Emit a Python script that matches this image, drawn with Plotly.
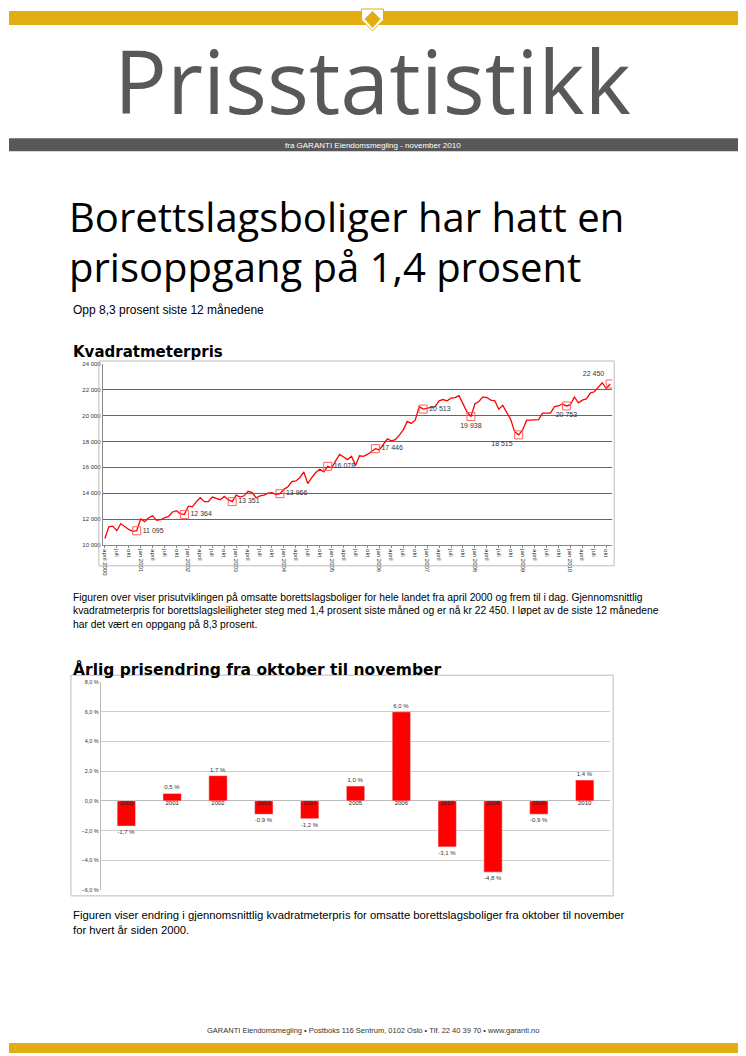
import plotly.graph_objects as go

W, H = 738, 1048
OFF = 8
def px(x): return (x - OFF) / W
def py(y): return 1 - (y - OFF) / H

# ---- data ----
price = [
 10500,11400,11450,11100,11650,11400,11200,11050,11095,
 12000,11800,12100,12250,11900,11950,12100,12200,12550,12650,12400,12364,
 13000,12950,13350,13650,13350,13350,13700,13600,13500,13750,13500,13351,
 13850,13700,13800,14150,14050,13650,13800,13850,14000,14050,13900,13966,
 14300,14500,14900,14950,15200,15650,14750,15200,15600,15850,15650,16078,
 15950,16500,17000,16800,16600,16850,16150,16900,16850,17000,17250,17446,
 17350,17800,18200,18050,18150,18500,18900,19550,19400,19650,20700,20513,
 20600,20650,20700,21150,21250,21150,21350,21400,21550,20900,20300,19938,
 20900,21100,21450,21400,21200,21150,20500,20800,20300,19700,18750,18515,
 18900,19650,19650,19650,19700,20200,20200,20200,20700,20750,20900,20753,
 20850,21450,21000,21200,21300,21750,21850,22200,22550,22100,22450]
month_names = ["jan","feb","mars","april","mai","juni","juli","aug","sep","okt","nov","des"]
marked_idx = [8,20,32,44,56,68,80,92,104,116,127]
marked_pos = ["middle right"]*6 + ["middle right","bottom center","bottom left","bottom center","top left"]

years = ["2000","2001","2002","2003","2004","2005","2006","2007","2008","2009","2010"]
change = [-1.7,0.5,1.7,-0.9,-1.2,1.0,6.0,-3.1,-4.8,-0.9,1.4]

xs = list(range(len(price)))
ticks, ticklabels = [], []
for i in xs:
    m = (3 + i) % 12
    y = 2000 + (3 + i) // 12
    if m in (0, 3, 6, 9):
        ticks.append(i)
        if m == 0 or i == 0:
            ticklabels.append(f"{month_names[m]} {y}")
        else:
            ticklabels.append(month_names[m])

fig = go.Figure()
fig.add_trace(go.Scatter(x=xs, y=price, mode="lines", line=dict(color="#FF0000", width=1.3),
                         xaxis="x", yaxis="y", hoverinfo="skip"))
fig.add_trace(go.Scatter(x=marked_idx, y=[price[i] for i in marked_idx], mode="markers+text",
                         marker=dict(symbol="square-open", size=8, color="#FF6060", line=dict(width=1)),
                         text=[f"{price[i]:,}".replace(",", " ") for i in marked_idx],
                         textposition=marked_pos, textfont=dict(size=7, color="#333", family="Liberation Sans"),
                         xaxis="x", yaxis="y", hoverinfo="skip"))

fig.add_trace(go.Bar(x=years, y=change, marker=dict(color="#FF0000"), width=0.4,
                     text=[f"{v:.1f} %".replace(".", ",") for v in change], textposition="outside",
                     textfont=dict(size=6, color="#333", family="Liberation Sans"),
                     cliponaxis=False, xaxis="x2", yaxis="y2"))
fig.add_trace(go.Scatter(x=years, y=[0]*len(years), mode="text", text=years, textposition="bottom center",
                         textfont=dict(size=6, color="#222", family="Liberation Sans"),
                         xaxis="x2", yaxis="y2", hoverinfo="skip"))

shapes = [
    dict(type="rect", xref="paper", yref="paper", x0=0, x1=1, y0=py(22), y1=1, fillcolor="#E3AC12", line_width=0, layer="below"),
    dict(type="path", xref="paper", yref="paper",
         path=f"M {px(361)} {py(6)} L {px(383)} {py(6)} L {px(383)} {py(17)} L {px(372)} {py(28)} L {px(361)} {py(17)} Z",
         fillcolor="#FFFFFF", line=dict(color="#E3AC12", width=1)),
    dict(type="path", xref="paper", yref="paper",
         path=f"M {px(372)} {py(8)} L {px(380)} {py(16)} L {px(372)} {py(25)} L {px(364)} {py(16)} Z",
         fillcolor="#E3AC12", line_width=0),
    dict(type="rect", xref="paper", yref="paper", x0=0, x1=1, y0=py(149), y1=py(136), fillcolor="#58585A", line_width=0, layer="below"),
    dict(type="rect", xref="paper", yref="paper", x0=0, x1=1, y0=0, y1=py(1046), fillcolor="#E3AC12", line_width=0),
    dict(type="rect", xref="paper", yref="paper", x0=px(98), x1=px(614), y0=py(566), y1=py(360), line=dict(color="#BBBBBB", width=1)),
    dict(type="rect", xref="paper", yref="paper", x0=px(70), x1=px(613), y0=py(898), y1=py(676), line=dict(color="#BBBBBB", width=1)),
]

def ann(x, y, text, size, color="#000", family="Liberation Sans", xanchor="left", yanchor="middle"):
    return dict(x=px(x), y=py(y), xref="paper", yref="paper", text=text, showarrow=False,
                font=dict(size=size, color=color, family=family), xanchor=xanchor, yanchor=yanchor, align="left")

annotations = [
    ann(372, 77, "Prisstatistikk", 88, color="#58585A", family="Open Sans", xanchor="center"),
    ann(372, 143, "fra GARANTI Eiendomsmegling - november 2010", 8, color="#FFFFFF", xanchor="center"),
    ann(66, 215, "Borettslagsboliger har hatt en", 40, family="Open Sans"),
    ann(66, 265, "prisoppgang på 1,4 prosent", 40, family="Open Sans"),
    ann(70, 309, "Opp 8,3 prosent siste 12 månedene", 12),
    ann(70, 351, "<b>Kvadratmeterpris</b>", 15, family="DejaVu Sans"),
    ann(70, 611, "Figuren over viser prisutviklingen på omsatte borettslagsboliger for hele landet fra april 2000 og frem til i dag. Gjennomsnittlig<br>kvadratmeterpris for borettslagsleiligheter steg med 1,4 prosent siste måned og er nå kr 22 450. I løpet av de siste 12 månedene<br>har det vært en oppgang på 8,3 prosent.", 10.3),
    ann(70, 670, "<b>Årlig prisendring fra oktober til november</b>", 15.5, family="DejaVu Sans"),
    ann(70, 925, "Figuren viser endring i gjennomsnittlig kvadratmeterpris for omsatte borettslagsboliger fra oktober til november<br>for hvert år siden 2000.", 11.3),
    ann(372, 1033, "GARANTI Eiendomsmegling • Postboks 116 Sentrum, 0102 Oslo • Tlf. 22 40 39 70 • www.garanti.no", 7.5, color="#333", xanchor="center"),
]

fig.update_layout(
    width=W, height=H, margin=dict(l=0, r=0, t=0, b=0), paper_bgcolor="white", plot_bgcolor="white",
    showlegend=False, separators=", ", shapes=shapes, annotations=annotations,
    xaxis=dict(domain=[px(102), px(612)], anchor="y", range=[-0.5, len(price) - 0.5],
               tickvals=ticks, ticktext=ticklabels, tickangle=90, tickfont=dict(size=6, family="Liberation Sans", color="#333"),
               showgrid=False, zeroline=False, ticks="outside", ticklen=2, tickcolor="#888", showline=True, linecolor="#888"),
    yaxis=dict(domain=[py(545), py(363)], anchor="x", range=[10000, 24000], dtick=2000, tickformat=",d",
               tickfont=dict(size=6, family="Liberation Sans", color="#333"), gridcolor="#666", gridwidth=0.8,
               zeroline=False, showline=True, linecolor="#888"),
    xaxis2=dict(domain=[px(100), px(610)], anchor="y2", showticklabels=False, showgrid=False, zeroline=False,
                showline=False),
    yaxis2=dict(domain=[py(892), py(683)], anchor="x2", range=[-6, 8], dtick=2, tickformat=".1f", ticksuffix=" %",
                tickfont=dict(size=5.5, family="Liberation Sans", color="#333"), gridcolor="#CCCCCC", gridwidth=1,
                zeroline=True, zerolinecolor="#BBBBBB", zerolinewidth=1, showline=True, linecolor="#BBBBBB"),
)
fig.write_html("out.html")
